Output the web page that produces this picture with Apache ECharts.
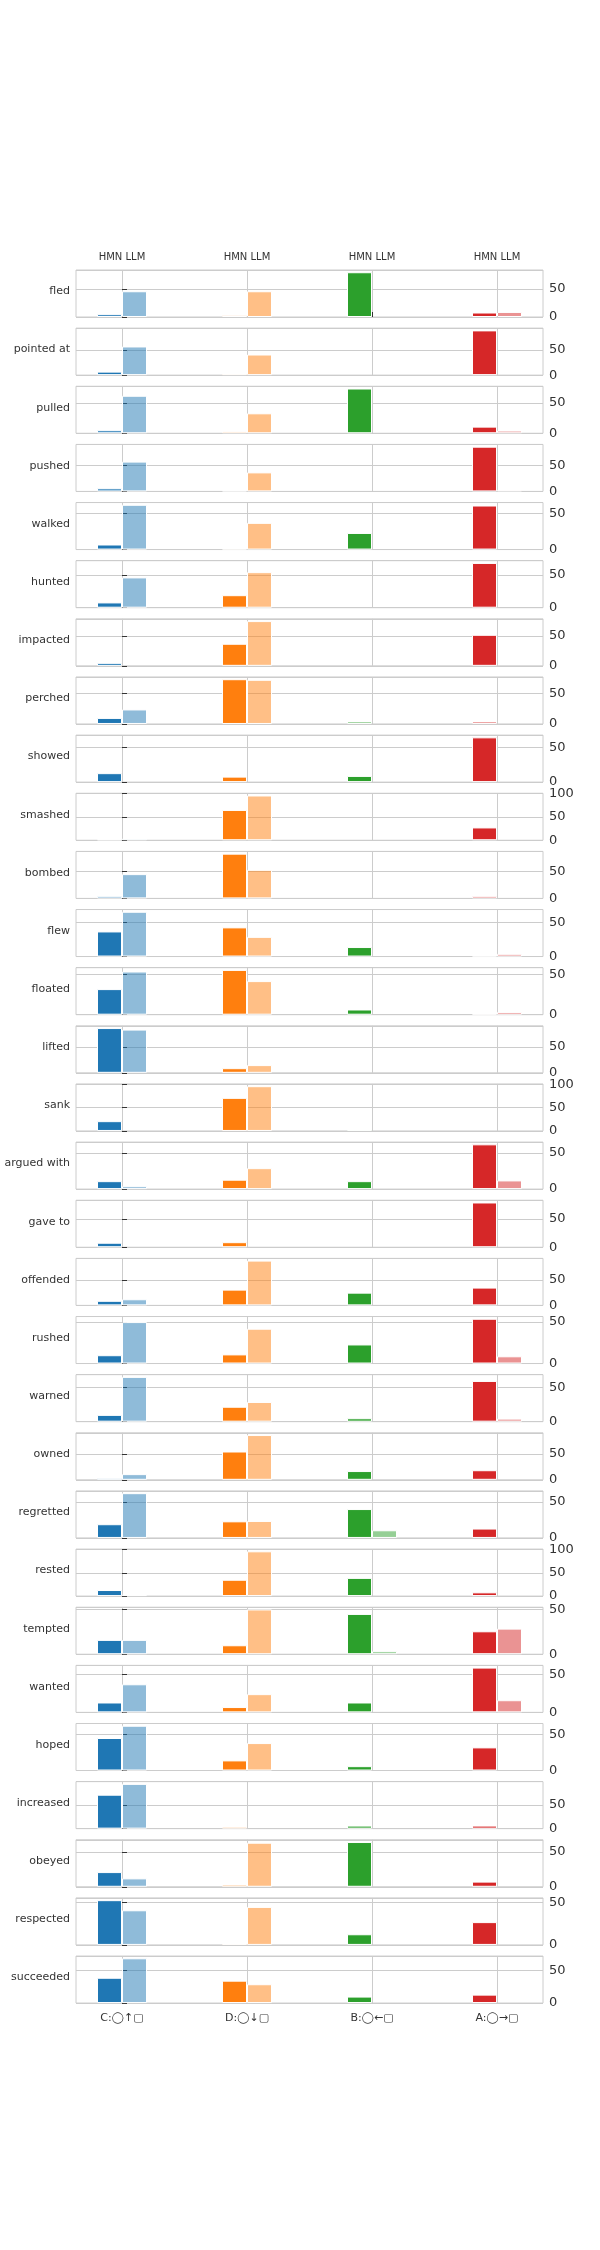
<!DOCTYPE html>
<html>
<head>
<meta charset="utf-8">
<script src="https://cdn.jsdelivr.net/npm/echarts@6/dist/echarts.min.js"></script>
<style>
  html, body { margin: 0; padding: 0; background: #fff; }
  #chart { width: 600px; height: 2250px; }
</style>
</head>
<body>
<div id="chart"></div>
<script>
// 每行一个动词，四组方向（C, D, B, A），每组 HMN / LLM 两根柱
const verbs = ['fled', 'pointed at', 'pulled', 'pushed', 'walked', 'hunted', 'impacted', 'perched',
  'showed', 'smashed', 'bombed', 'flew', 'floated', 'lifted', 'sank', 'argued with', 'gave to',
  'offended', 'rushed', 'warned', 'owned', 'regretted', 'rested', 'tempted', 'wanted', 'hoped',
  'increased', 'obeyed', 'respected', 'succeeded'];
const groupLabels = ['C:◯↑▢', 'D:◯↓▢', 'B:◯←▢', 'A:◯→▢'];
const headerLabel = 'HMN LLM';

const hmnC = [5, 7, 5, 6, 7, 8, 5, 10, 13, 2, 4, 37, 32, 87, 21, 11, 8, 9, 10, 10, 3, 19, 13, 16, 13, 45, 72, 21, 53, 39];
const llmC = [46, 57, 62, 58, 62, 46, 0, 24, 0, 3.5, 45, 66, 54, 84, 0, 4, 0, 12, 50, 66, 11, 62, 3, 16, 37, 62, 95, 12, 41, 69];
const hmnD = [3, 3, 3, 2, 1.5, 19, 37, 74, 8, 65, 83, 43, 56, 9, 71, 13, 9, 31, 11, 22, 55, 23, 35, 10, 7, 14, 4, 3, 1.6, 34.5];
const llmD = [46, 41, 33, 37, 37, 54, 75, 73, 0, 96, 53, 29, 42, 15, 96, 29, 0, 88, 42, 29, 87, 23.5, 96, 50, 24, 38, 0, 63, 45, 29];
const hmnB = [80, 0, 74, 0, 23, 0, 0, 4, 9, 0, 0, 14, 6.5, 0, 3, 11, 0, 25, 23, 5, 17, 40, 39, 45, 13, 6, 6.5, 64, 12.6, 10];
const llmB = [0, 0, 0, 0, 0, 0, 0, 0, 0, 0, 0, 0, 0, 0, 0, 0, 0, 0, 0, 0, 0, 10.6, 0, 3.4, 0, 0, 0, 0, 0, 0];
const hmnA = [8, 89, 11, 87, 61, 68, 52, 4, 65, 27.5, 4, 1.5, 1.3, 0, 0, 62, 79.5, 35, 54, 60, 18.6, 13, 8, 25.6, 59, 32, 6.5, 7.4, 27, 13];
const llmA = [9, 0, 4.5, 3, 0, 0, 0, 0, 0, 0, 0, 4, 3.4, 0, 0, 12, 0, 0, 8.7, 4.5, 0, 0, 0, 28.6, 16, 0, 0, 0, 0, 0];

const colors = ['#1f77b4', '#ff7f0e', '#2ca02c', '#d62728'];
const lightColors = ['rgba(31,119,180,0.5)', 'rgba(255,127,14,0.5)', 'rgba(44,160,44,0.5)', 'rgba(214,39,40,0.5)'];
const groups = [[hmnC, llmC], [hmnD, llmD], [hmnB, llmB], [hmnA, llmA]];

const chart = echarts.init(document.getElementById('chart'));

const top0 = 270, pitch = 58.14, panelH = 47, left = 76, right = 57;
const grid = [], xAxis = [], yAxis = [], series = [], graphic = [];

verbs.forEach((verb, i) => {
  const isFirst = i === 0, isLast = i === verbs.length - 1;
  const top = top0 + i * pitch;
  grid.push({ left: left, right: right, top: top, height: panelH, show: true, borderColor: '#cccccc', borderWidth: 1 });

  xAxis.push({
    type: 'value', gridIndex: i, min: -0.368, max: 3.368,
    position: isFirst ? 'top' : 'bottom',
    axisLine: { show: false },
    axisTick: { show: isFirst, customValues: [0, 1, 2, 3], length: 5, inside: false, lineStyle: { color: '#333' } },
    axisLabel: {
      show: isFirst || isLast, customValues: [0, 1, 2, 3],
      fontSize: isFirst ? 10 : 11, color: '#333', fontFamily: 'DejaVu Sans', margin: isFirst ? 8 : 10,
      formatter: v => isFirst ? headerLabel : groupLabels[Math.round(v)]
    },
    splitLine: { show: true, lineStyle: { color: '#cccccc', width: 1 } }
  });

  yAxis.push({
    type: 'value', gridIndex: i, position: 'right', min: 0, interval: 50,
    max: v => v.max * 1.05,
    axisLine: { show: false },
    axisTick: { show: true, length: 5, lineStyle: { color: '#333' } },
    axisLabel: { fontSize: 13, color: '#333', fontFamily: 'DejaVu Sans', margin: 6, showMaxLabel: false },
    splitLine: { show: true, lineStyle: { color: '#cccccc', width: 1 } }
  });

  const data = [];
  groups.forEach((pair, g) => {
    if (pair[0][i] > 0) data.push({ value: [g - 0.1, pair[0][i]], itemStyle: { color: colors[g] } });
    if (pair[1][i] > 0) data.push({ value: [g + 0.1, pair[1][i]], itemStyle: { color: lightColors[g] } });
  });
  series.push({
    type: 'bar', xAxisIndex: i, yAxisIndex: i, barWidth: 25, data: data,
    itemStyle: { borderColor: '#ffffff', borderWidth: 1 },
    animation: false
  });

  graphic.push({
    type: 'text', x: 70, y: top + panelH / 2 - 2,
    style: { text: verb, align: 'right', verticalAlign: 'middle', fontSize: 11, fill: '#333', fontFamily: 'DejaVu Sans' }
  });
});

chart.setOption({
  animation: false,
  grid: grid,
  xAxis: xAxis,
  yAxis: yAxis,
  series: series,
  graphic: graphic
});
</script>
</body>
</html>
